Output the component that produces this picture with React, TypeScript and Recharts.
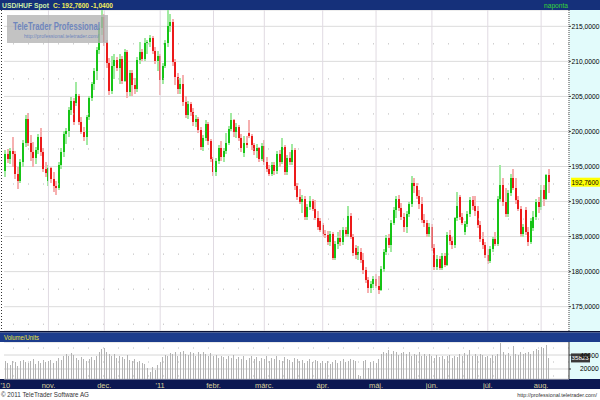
import React from 'react';
import { ComposedChart, Bar, XAxis, YAxis, CartesianGrid, ReferenceLine } from 'recharts';

// [open, high, low, close]
type Candle = [number, number, number, number];

const monthLabels = ["'10", 'nov.', 'dec.', "'11", 'febr.', 'márc.', 'ápr.', 'máj.', 'jún.', 'júl.', 'aug.'];

const okt: Candle[] = [
  [194.3, 197.3, 193.5, 196.8], [196.8, 197.5, 195.5, 196.0], [196.0, 197.6, 195.4, 197.2], [197.2, 199.2, 194.9, 196.8],
  [196.8, 197.2, 193.2, 194.0], [194.0, 195.0, 191.8, 193.0], [193.0, 196.0, 192.6, 195.6], [195.6, 198.8, 195.0, 198.3],
  [198.3, 202.3, 197.8, 201.8], [201.8, 202.6, 197.9, 198.4], [198.4, 199.5, 195.8, 197.0], [197.0, 198.5, 195.0, 196.2],
  [196.2, 197.8, 195.3, 197.4], [197.4, 199.6, 196.8, 199.2], [199.2, 200.5, 196.5, 197.0], [197.0, 197.6, 194.2, 194.6],
  [194.6, 195.6, 193.5, 194.1],
];
const nov: Candle[] = [
  [193.0, 195.2, 192.2, 194.8], [194.8, 195.0, 192.6, 193.2], [193.2, 194.2, 191.4, 192.2], [192.2, 193.0, 191.0, 191.9],
  [191.9, 195.6, 191.6, 195.2], [195.2, 197.6, 194.7, 197.1], [197.1, 200.0, 196.3, 199.6], [199.6, 200.5, 198.2, 200.1],
  [200.1, 203.5, 199.2, 203.0], [203.0, 204.9, 202.4, 204.4], [204.4, 204.8, 200.9, 201.3], [204.0, 207.1, 203.6, 205.4],
  [205.0, 205.4, 200.9, 201.3], [201.3, 202.0, 199.6, 199.9], [199.9, 200.6, 198.6, 199.2], [199.2, 202.3, 198.0, 202.0],
  [202.0, 205.0, 201.6, 204.8], [204.8, 207.1, 204.3, 206.8], [206.8, 209.0, 205.9, 208.6], [208.6, 212.0, 207.4, 211.6],
  [211.6, 215.4, 211.0, 214.8], [214.8, 217.4, 213.8, 216.3],
];
const dec: Candle[] = [
  [216.3, 216.8, 212.2, 212.8], [212.8, 213.0, 209.0, 209.8], [209.8, 210.5, 205.2, 205.8], [205.8, 210.8, 205.4, 209.4],
  [209.4, 211.0, 207.5, 210.2], [210.2, 210.6, 208.6, 209.0], [209.0, 211.0, 206.8, 210.3], [210.3, 210.8, 206.8, 207.2],
  [207.2, 211.8, 207.0, 211.3], [211.3, 211.6, 204.8, 205.6], [205.6, 208.8, 205.0, 208.4], [208.4, 208.8, 205.0, 206.7],
  [206.7, 207.6, 205.4, 206.0], [206.0, 210.6, 205.7, 210.2], [210.2, 212.8, 209.6, 211.4], [211.4, 211.8, 210.0, 210.4],
  [210.4, 213.4, 210.1, 212.6], [212.6, 213.0, 211.0, 212.8], [212.8, 213.8, 212.0, 213.3], [213.3, 213.6, 211.0, 211.5],
  [211.5, 212.0, 209.6, 210.0], [210.0, 211.5, 208.6, 210.8],
];
const jan: Candle[] = [
  [210.8, 211.0, 205.2, 207.4], [207.4, 209.8, 206.8, 209.3], [209.3, 213.0, 209.0, 212.6], [212.6, 217.4, 212.0, 215.0],
  [215.0, 216.8, 214.2, 215.6], [215.6, 216.0, 209.4, 209.9], [209.9, 210.4, 206.6, 207.8], [207.8, 208.4, 205.4, 206.0],
  [206.0, 207.6, 205.4, 206.8], [206.8, 208.0, 203.6, 204.2], [204.2, 205.0, 201.9, 202.3], [202.3, 204.4, 201.8, 203.9],
  [203.9, 204.2, 202.2, 202.8], [202.8, 203.4, 200.8, 201.3], [201.3, 202.4, 200.6, 201.8], [201.8, 202.0, 199.8, 200.2],
  [200.2, 200.6, 197.4, 197.8], [197.8, 199.5, 197.2, 199.1], [199.1, 201.6, 198.6, 201.1], [201.1, 201.4, 198.0, 198.6],
  [198.6, 198.9, 195.6, 196.0],
];
const feb: Candle[] = [
  [196.0, 196.4, 193.7, 194.2], [194.2, 196.2, 193.6, 195.8], [195.8, 198.0, 195.4, 197.6], [197.6, 198.6, 195.8, 196.4],
  [196.4, 197.6, 195.6, 197.2], [197.2, 199.8, 196.8, 198.4], [198.4, 200.8, 198.0, 200.4], [200.4, 202.6, 200.0, 201.6],
  [201.6, 201.8, 199.2, 199.9], [199.9, 201.2, 199.0, 200.6], [200.6, 200.9, 198.6, 199.0], [199.0, 199.6, 197.0, 197.6],
  [196.9, 199.4, 196.4, 198.3], [198.3, 199.4, 197.6, 198.0], [199.8, 201.6, 199.0, 199.4], [199.4, 199.6, 197.4, 198.0],
  [198.0, 198.4, 196.6, 197.2], [197.2, 198.2, 196.2, 197.6], [197.6, 197.8, 195.6, 196.0], [196.0, 198.4, 195.8, 197.9],
];
const mar: Candle[] = [
  [197.9, 198.8, 195.2, 195.6], [195.6, 196.4, 194.2, 194.6], [194.6, 195.2, 193.6, 194.0], [194.0, 195.6, 193.6, 195.2],
  [195.2, 195.6, 193.8, 194.3], [194.3, 197.2, 194.0, 196.8], [196.8, 197.4, 195.0, 195.6], [195.6, 199.0, 195.4, 197.8],
  [197.8, 198.0, 193.8, 194.2], [194.2, 196.6, 193.8, 196.2], [196.2, 197.0, 195.2, 195.6], [195.6, 198.2, 195.2, 197.4],
  [197.4, 197.6, 191.6, 192.2], [192.2, 192.6, 190.2, 190.6], [190.6, 191.8, 189.6, 190.0], [190.0, 191.0, 188.4, 190.4],
  [190.4, 190.8, 187.4, 187.8], [187.8, 189.6, 187.4, 189.2], [189.2, 190.8, 188.8, 190.1], [190.1, 190.4, 188.6, 189.0],
  [189.0, 190.2, 187.4, 187.7], [187.7, 188.6, 186.0, 186.4], [187.2, 187.6, 185.6, 185.9],
];
const apr: Candle[] = [
  [186.6, 187.0, 185.0, 185.4], [185.4, 186.0, 184.8, 185.2], [185.2, 185.8, 183.8, 184.2], [184.2, 185.8, 183.6, 185.3],
  [185.3, 185.6, 181.6, 182.0], [182.0, 184.4, 181.6, 184.0], [184.0, 185.6, 183.2, 184.8], [184.8, 186.0, 183.6, 184.2],
  [184.2, 186.4, 183.8, 186.0], [186.0, 186.4, 185.0, 185.4], [185.4, 189.4, 185.0, 188.0], [188.0, 188.4, 184.6, 185.0],
  [185.0, 185.4, 182.2, 182.6], [183.4, 183.8, 181.8, 182.4], [182.4, 183.6, 181.6, 182.8], [182.8, 183.4, 181.2, 181.6],
  [181.6, 182.6, 179.6, 180.2], [180.2, 180.6, 178.4, 178.8], [178.8, 179.2, 176.9, 177.6], [177.6, 178.6, 177.0, 178.2],
  [178.2, 179.4, 177.6, 178.9],
];
const may: Candle[] = [
  [178.9, 179.6, 177.6, 178.0], [178.0, 179.4, 176.8, 177.4], [177.4, 180.8, 177.2, 180.4], [180.4, 183.2, 180.0, 182.8],
  [182.8, 185.2, 182.4, 184.8], [184.8, 185.4, 183.4, 183.8], [183.8, 187.4, 182.8, 187.0], [187.0, 189.2, 186.6, 188.8],
  [188.8, 190.8, 187.6, 190.4], [190.4, 190.9, 188.6, 189.1], [189.1, 189.8, 187.4, 187.8], [187.8, 188.4, 185.6, 186.3],
  [186.3, 188.6, 185.5, 188.2], [188.2, 190.0, 187.8, 189.6], [189.6, 193.7, 189.2, 192.6], [192.6, 193.4, 191.2, 192.2],
  [192.2, 192.6, 190.4, 190.8], [190.8, 191.6, 189.0, 189.6], [189.6, 190.6, 187.0, 187.4], [187.4, 188.2, 186.4, 187.0],
  [187.0, 187.4, 185.0, 185.4], [185.4, 187.0, 185.0, 186.4],
];
const jun: Candle[] = [
  [186.4, 186.8, 183.0, 183.4], [183.4, 184.0, 180.2, 180.6], [180.6, 182.4, 180.2, 181.8], [181.8, 182.2, 180.2, 180.5],
  [180.5, 182.6, 180.2, 182.2], [182.2, 182.6, 180.6, 181.0], [181.0, 185.6, 180.8, 185.2], [185.2, 186.0, 183.8, 184.4],
  [184.4, 185.0, 183.2, 183.8], [183.8, 187.8, 183.4, 187.6], [187.6, 191.3, 187.2, 189.4], [190.6, 191.0, 187.4, 187.8],
  [187.8, 188.4, 186.6, 187.0], [185.6, 187.2, 185.2, 186.8], [186.8, 188.6, 186.4, 188.2], [188.2, 190.6, 187.8, 190.2],
  [190.2, 190.8, 188.8, 189.4], [189.4, 190.8, 188.0, 188.6], [188.6, 189.4, 186.2, 186.6], [186.6, 187.2, 184.2, 184.6],
  [184.6, 185.6, 183.2, 183.8], [183.8, 184.2, 182.0, 182.4],
];
const jul: Candle[] = [
  [182.4, 183.2, 181.1, 181.5], [181.5, 183.6, 181.2, 183.2], [183.2, 185.0, 182.8, 184.6], [184.6, 185.6, 183.6, 184.0],
  [184.0, 190.8, 183.6, 190.4], [190.4, 195.2, 190.0, 192.4], [192.4, 193.4, 189.4, 190.0], [190.0, 192.0, 187.8, 188.2],
  [188.2, 191.6, 187.8, 191.2], [191.2, 194.0, 190.8, 193.4], [193.4, 194.7, 191.6, 192.0], [192.0, 193.4, 189.6, 190.2],
  [190.2, 190.8, 188.6, 189.0], [189.0, 189.4, 185.0, 185.4], [185.4, 186.8, 185.0, 186.4], [188.8, 189.2, 185.2, 185.6],
  [185.6, 186.4, 183.7, 184.2], [184.2, 187.6, 184.0, 187.2], [186.2, 188.6, 185.8, 187.8], [187.8, 190.4, 187.4, 190.0],
  [190.0, 190.6, 188.4, 189.2],
];
const aug: Candle[] = [
  [189.2, 192.4, 188.8, 191.6], [191.6, 192.4, 189.4, 190.4], [190.4, 194.0, 190.2, 193.8], [193.8, 194.7, 191.2, 192.76],
];

const oktVol = [31000, 29000, 26000, 32000, 30000, 24000, 31000, 33000, 30000, 28000, 32000, 34000, 27000, 31000, 29000, 33000, 30000];
const novVol = [31000, 33000, 28000, 32000, 36000, 33000, 39000, 41000, 38000, 43000, 40000, 36000, 33000, 37000, 34000, 31000, 35000, 37000, 33000, 39000, 44000, 48000];
const decVol = [50000, 45000, 41000, 38000, 42000, 36000, 39000, 37000, 34000, 40000, 33000, 31000, 34000, 30000, 32000, 28000, 27000, 21000, 16000, 23000, 18000, 26000];
const janVol = [30000, 37000, 40000, 38000, 43000, 41000, 45000, 39000, 44000, 46000, 42000, 40000, 45000, 43000, 38000, 44000, 41000, 45000, 42000, 39000, 43000];
const febVol = [38000, 40000, 36000, 39000, 37000, 35000, 38000, 36000, 40000, 34000, 37000, 35000, 39000, 33000, 36000, 38000, 34000, 37000, 32000, 36000];
const marVol = [35000, 38000, 32000, 36000, 34000, 39000, 33000, 31000, 37000, 35000, 33000, 30000, 36000, 34000, 31000, 33000, 29000, 32000, 34000, 30000, 33000, 31000, 29000];
const aprVol = [31000, 28000, 32000, 27000, 30000, 33000, 29000, 31000, 34000, 30000, 32000, 35000, 33000, 31000, 12000, 10000, 31000, 33000, 22000, 30000, 32000];
const mayVol = [28000, 34000, 41000, 45000, 43000, 47000, 42000, 46000, 44000, 40000, 43000, 45000, 41000, 44000, 39000, 42000, 40000, 44000, 38000, 41000, 39000, 42000];
const junVol = [38000, 36000, 40000, 37000, 39000, 35000, 38000, 40000, 36000, 39000, 37000, 41000, 38000, 43000, 40000, 47000, 39000, 42000, 38000, 41000, 40000, 37000];
const julVol = [38000, 36000, 40000, 39000, 42000, 57000, 44000, 40000, 43000, 38000, 53000, 42000, 40000, 45000, 41000, 43000, 44000, 42000, 46000, 49000, 47000];
const augVol = [51000, 50000, 55000, 35823];

const priceTicks = [175, 180, 185, 190, 195, 200, 205, 210, 215];
const halfLevels = [172.5, 177.5, 182.5, 187.5, 192.5, 197.5, 202.5, 207.5, 212.5];
const volumeTicks = [20000, 40000];
const volumeDots = [10000, 30000, 50000];
const lastClose = 192.76;
const lastVolume = 35823;

const candlesByMonth = [okt, nov, dec, jan, feb, mar, apr, may, jun, jul, aug];
const volumeByMonth = [oktVol, novVol, decVol, janVol, febVol, marVol, aprVol, mayVol, junVol, julVol, augVol];

const rows = candlesByMonth.flatMap((month, m) =>
  month.map((c, k) => ({
    day: `${m}-${k}`,
    open: c[0],
    high: c[1],
    low: c[2],
    close: c[3],
    range: [c[2], c[1]],
    volume: volumeByMonth[m][k],
  }))
);

const FONT = '"Liberation Sans", Arial, sans-serif';
const fmtPrice = (v: number) => v.toFixed(4).replace('.', ',');

function CandleShape(props: any) {
  const { x, y, width, height, payload } = props;
  if (!payload) return null;
  const { open, high, low, close } = payload;
  const up = close >= open;
  const top = Math.min(y, y + height);
  const h = Math.abs(height);
  const left = Math.round(x + width / 2 - 1);
  const span = high - low || 1;
  const yOf = (v: number) => top + ((high - v) / span) * h;
  const bTop = yOf(Math.max(open, close));
  const bBot = yOf(Math.min(open, close));
  return (
    <g shapeRendering="crispEdges">
      <rect x={left} y={top} width={2} height={Math.max(h, 1)} fill={up ? '#a2eaa2' : '#f6b0b0'} />
      <rect x={left} y={bTop} width={2} height={Math.max(bBot - bTop, 1)} fill={up ? '#16c416' : '#ec1a1a'} />
    </g>
  );
}

function VolumeShape(props: any) {
  const { x, y, width, height } = props;
  const top = Math.min(y, y + height);
  return (
    <rect x={Math.round(x + width / 2 - 0.5)} y={top} width={1} height={Math.abs(height)} fill="#b3b3b3" shapeRendering="crispEdges" />
  );
}

// right-axis labels kept small so they fit the narrow strip
function PriceTick({ x, y, payload }: any) {
  return (
    <text x={x} y={y + 2.5} fontSize={6.7} fill="#000" fontFamily={FONT}>
      {fmtPrice(payload.value)}
    </text>
  );
}

function VolumeTick({ x, y, payload }: any) {
  return (
    <text x={x} y={y + 2.5} fontSize={6.7} fill="#000" fontFamily={FONT}>
      {payload.value}
    </text>
  );
}

function AxisTag({ viewBox, text, fill, color, w, size }: any) {
  if (!viewBox) return null;
  const x = viewBox.x + viewBox.width + 2;
  const y = viewBox.y;
  return (
    <g>
      <rect x={x} y={y - 4.5} width={w} height={9} fill={fill} />
      <text x={x + 0.5} y={y + 2.5} fontSize={size} fill={color} fontFamily={FONT}>
        {text}
      </text>
    </g>
  );
}

function MonthTick({ x, y, payload }: any) {
  const [m, k] = String(payload.value).split('-');
  if (k !== '0') return null;
  return (
    <text x={x} y={y + 7} textAnchor="middle" fontSize={7.5} fill="#d9d19c" fontFamily={FONT}>
      {monthLabels[Number(m)]}
    </text>
  );
}

export default function App() {
  const monthStarts = candlesByMonth.map((_, m) => `${m}-0`).slice(1);
  return (
    <div style={{ position: 'absolute', left: 0, top: 0, width: 600, height: 400, overflow: 'hidden', background: '#fff' }}>
      {/* background bands */}
      <svg width={600} height={400} style={{ position: 'absolute', left: 0, top: 0 }}>
        <rect x={0} y={0} width={600} height={10} fill="#15307a" />
        <rect x={569.5} y={10} width={31} height={321} fill="#e2fbfb" />
        <rect x={0} y={331} width={600} height={1.5} fill="#0a1236" />
        <rect x={0} y={332.5} width={600} height={9.5} fill="#1c3c8c" />
        <rect x={569.5} y={342} width={31} height={37} fill="#e2fbfb" />
        <rect x={0} y={379} width={600} height={10} fill="#0c1852" />
      </svg>

      <div style={{ position: 'absolute', left: 0, top: 10 }}>
        <ComposedChart width={600} height={321} data={rows} margin={{ top: 0, right: 0, bottom: 0, left: 4 }}>
          <CartesianGrid vertical={false} stroke="#dcdcdc" />
          {halfLevels.map((v) => (
            <ReferenceLine key={v} y={v} stroke="#b8b8b8" strokeDasharray="1 14" />
          ))}
          {monthStarts.map((d) => (
            <ReferenceLine key={d} x={d} stroke="#e0dae2" />
          ))}
          <XAxis dataKey="day" hide padding={{ left: 0, right: 19 }} />
          <YAxis
            orientation="right"
            width={31}
            domain={[171.53, 217.33]}
            ticks={priceTicks}
            interval={0}
            allowDataOverflow
            tick={<PriceTick />}
            tickSize={2}
            tickMargin={0.5}
            axisLine={{ stroke: '#444', strokeDasharray: '1 1' }}
            tickLine={{ stroke: '#444' }}
          />
          <Bar dataKey="range" shape={<CandleShape />} isAnimationActive={false} />
          <ReferenceLine
            y={lastClose}
            stroke="none"
            label={<AxisTag text={fmtPrice(lastClose)} fill="#ffff00" color="#000" w={29} size={6.5} />}
          />
        </ComposedChart>
      </div>

      <div style={{ position: 'absolute', left: 0, top: 342 }}>
        <ComposedChart width={600} height={47} data={rows} margin={{ top: 0, right: 0, bottom: 0, left: 4 }}>
          <CartesianGrid vertical={false} stroke="#d6d6d6" />
          {volumeDots.map((v) => (
            <ReferenceLine key={v} y={v} stroke="#bcbcbc" strokeDasharray="1 14" />
          ))}
          <XAxis
            dataKey="day"
            height={10}
            padding={{ left: 0, right: 19 }}
            axisLine={false}
            tickLine={false}
            tickSize={0}
            interval={0}
            tick={<MonthTick />}
          />
          <YAxis
            orientation="right"
            width={31}
            domain={[5700, 58600]}
            ticks={volumeTicks}
            interval={0}
            allowDataOverflow
            tick={<VolumeTick />}
            tickSize={2}
            tickMargin={9}
            axisLine={{ stroke: '#333' }}
            tickLine={{ stroke: '#333' }}
          />
          <Bar dataKey="volume" shape={<VolumeShape />} isAnimationActive={false} />
          <ReferenceLine
            y={lastVolume}
            stroke="none"
            label={<AxisTag text={String(lastVolume)} fill="#3a3a3a" color="#fff" w={19} size={6.2} />}
          />
        </ComposedChart>
      </div>

      {/* texts and watermark on top */}
      <svg width={600} height={400} style={{ position: 'absolute', left: 0, top: 0, pointerEvents: 'none' }} fontFamily={FONT}>
        <text x={2} y={8} fontSize={7.5} fontWeight="bold" fill="#cdeeaa" textLength={47} lengthAdjust="spacingAndGlyphs">USD/HUF Spot</text>
        <text x={53} y={8} fontSize={7.5} fontWeight="bold" fill="#f2ee5c" textLength={60} lengthAdjust="spacingAndGlyphs">C: 192,7600 -1,0400</text>
        <text x={544} y={8} fontSize={7.5} fill="#36d636" textLength={24} lengthAdjust="spacingAndGlyphs">naponta</text>
        <line x1={1.5} y1={10} x2={1.5} y2={331} stroke="#333" strokeDasharray="1 2" />
        <rect x={7} y={15} width={101} height={28} fill="#b4b4b4" fillOpacity={0.8} />
        <text x={13} y={30} fontSize={10.5} fontWeight="bold" fill="#6f86bd" textLength={87} lengthAdjust="spacingAndGlyphs">TeleTrader Professional</text>
        <text x={24} y={38} fontSize={6} fill="#6f86bd" textLength={75} lengthAdjust="spacingAndGlyphs">http://professional.teletrader.com/</text>
        <text x={4} y={340} fontSize={7.5} fill="#e8e23e" textLength={35} lengthAdjust="spacingAndGlyphs">Volume/Units</text>
        <text x={1} y={397} fontSize={8} fill="#333" textLength={88} lengthAdjust="spacingAndGlyphs">© 2011 TeleTrader Software AG</text>
        <text x={597} y={396.5} textAnchor="end" fontSize={5.4} fill="#333">http://professional.teletrader.com/</text>
      </svg>
    </div>
  );
}
